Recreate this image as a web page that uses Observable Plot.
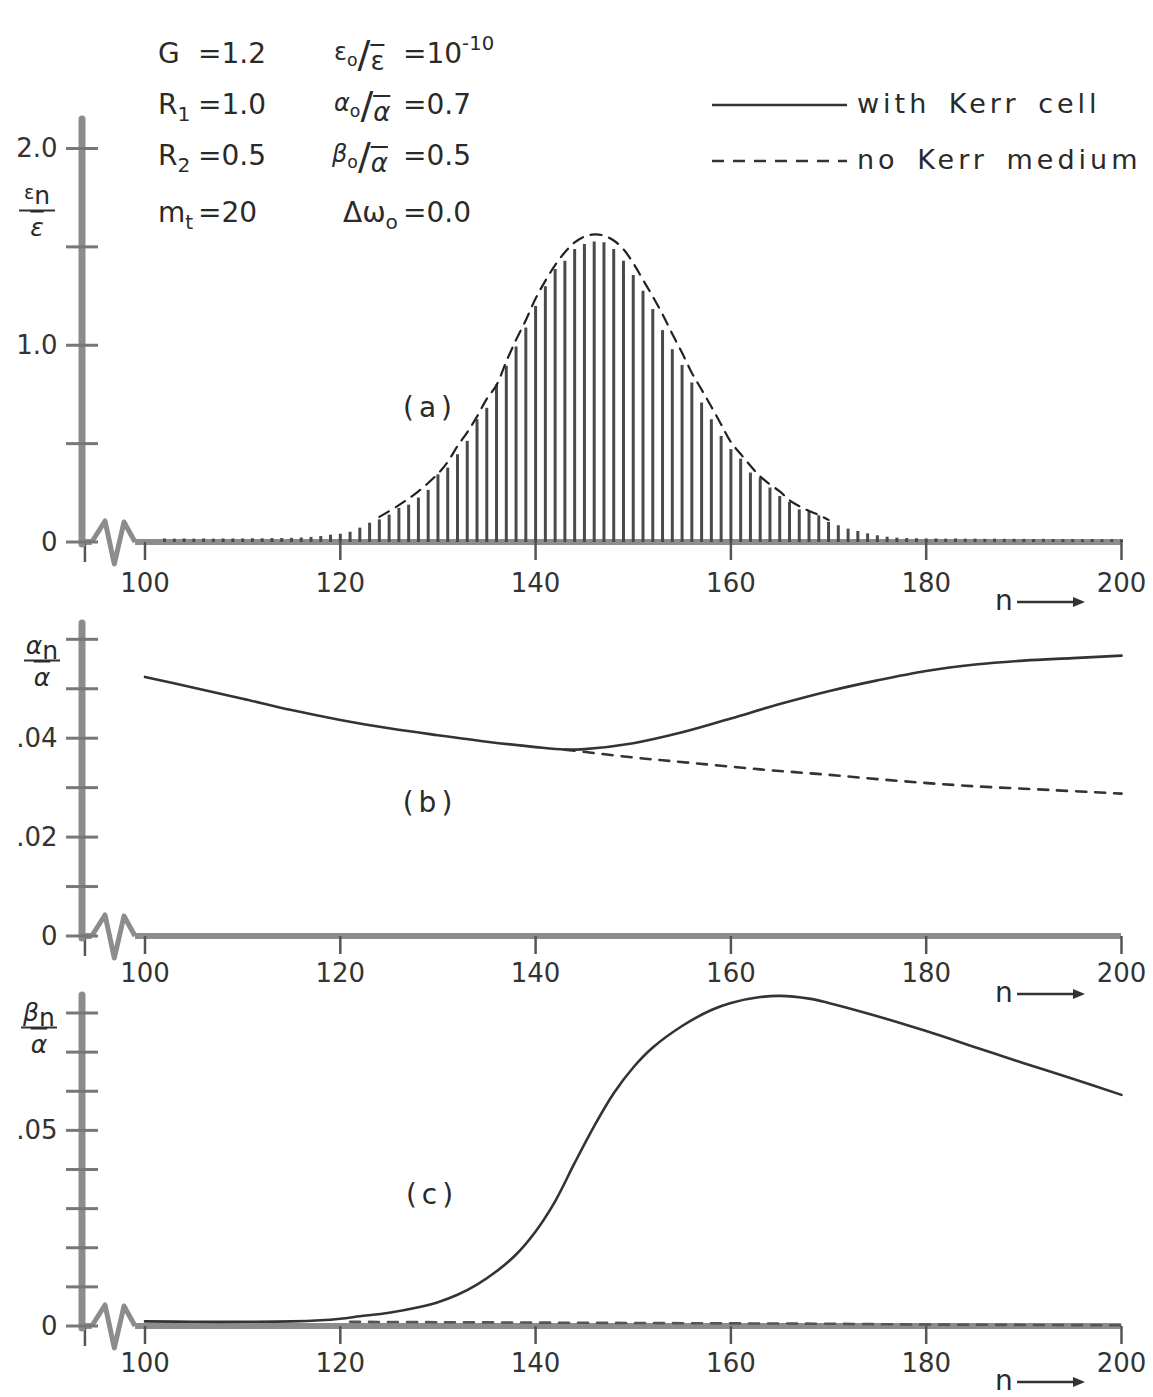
<!DOCTYPE html>
<html>
<head>
<meta charset="utf-8">
<script src="https://cdn.jsdelivr.net/npm/d3@7"></script>
<script src="https://cdn.jsdelivr.net/npm/@observablehq/plot@0.6"></script>
<style>
  body { margin: 0; background: #fff; }
  #page { position: relative; width: 1153px; height: 1397px; background: #fff; overflow: hidden;
          font-family: "DejaVu Sans", sans-serif; color: #2a2a2a; }
  .abs { position: absolute; white-space: nowrap; line-height: 1; transform: translateY(-50%); }
  .ctr { transform: translate(-50%, -50%); }
  .prm { font-size: 28px; }
  .sb { font-size: 0.72em; position: relative; top: 0.35em; }
  .sp { font-size: 0.7em; position: relative; top: -0.65em; }
  .num { font-size: 24px; position: relative; top: -7px; }
  .sl { font-size: 38px; }
  .ov { text-decoration: overline; font-size: 26px; position: relative; top: 3px; }
  .leg { font-size: 27px; letter-spacing: 4px; word-spacing: 6px; }
  .plab { font-size: 28px; letter-spacing: 5px; }
  .frac { position: absolute; transform: translate(-50%, -50%); display: flex; flex-direction: column;
          align-items: center; line-height: 1; font-size: 25px; }
  .frac .bar { width: 36px; height: 2px; background: #333; margin: 2px 0 3px 0; }
  .frac .dn { text-decoration: overline; font-style: italic; }
</style>
</head>
<body>
<div id="page"></div>
<script>
// ---------------- data ----------------
const xDomain = [93.6, 200];
const xTicks = [100, 120, 140, 160, 180, 200];

// (a) pulse energies with Kerr cell, n = 102..200
const kerrN = d3.range(102, 201);
const kerrE = [
  0.018, 0.017, 0.018, 0.017, 0.018, 0.017, 0.018, 0.018, 0.018, 0.019, 0.019, 0.020,
  0.020, 0.021, 0.023, 0.026,
  0.030, 0.037, 0.042, 0.052, 0.073, 0.098, 0.115, 0.139, 0.173, 0.190,
  0.226, 0.265, 0.344, 0.378, 0.446, 0.514, 0.624, 0.682, 0.800, 0.896,
  0.994, 1.090, 1.200, 1.300, 1.388, 1.430, 1.489, 1.515, 1.527, 1.523,
  1.489, 1.430, 1.357, 1.277, 1.184, 1.077, 0.980, 0.900, 0.811, 0.709,
  0.624, 0.539, 0.472, 0.424, 0.353, 0.327, 0.277, 0.234, 0.204, 0.166,
  0.158, 0.136, 0.102, 0.085, 0.068, 0.056, 0.044, 0.034, 0.027, 0.022,
  0.020, 0.019,
  0.018, 0.018, 0.017, 0.018, 0.017, 0.017, 0.016, 0.017, 0.016, 0.016, 0.016,
  0.015, 0.016, 0.015, 0.015, 0.015, 0.014, 0.015, 0.014, 0.014, 0.014
];
// (a) envelope, no Kerr medium
const envN = [124, 126, 128, 130, 131, 132, 133, 134, 135, 136, 137, 138, 139, 140, 141, 142, 143, 144, 145, 146,
              147, 148, 149, 150, 151, 152, 153, 154, 155, 156, 157, 158, 159, 160, 161, 162, 163, 164, 165, 166,
              167, 168, 169, 170];
const envE = [0.13, 0.19, 0.26, 0.35, 0.41, 0.49, 0.56, 0.64, 0.73, 0.80, 0.92, 1.03, 1.13, 1.24, 1.33, 1.41, 1.475, 1.525, 1.555, 1.566,
              1.56, 1.535, 1.49, 1.42, 1.335, 1.25, 1.16, 1.06, 0.964, 0.862, 0.777, 0.69, 0.60, 0.51, 0.45, 0.39, 0.336, 0.295, 0.26, 0.215,
              0.185, 0.16, 0.14, 0.115];

// (b) alpha_n / alpha-bar
const alphaKerrN = [100, 105, 110, 115, 120, 125, 130, 135, 140, 143, 145, 150, 155, 160, 165, 170, 175, 180, 185, 190, 195, 200];
const alphaKerrV = [0.0525, 0.0503, 0.0481, 0.0458, 0.0438, 0.0421, 0.0407, 0.0394, 0.0383, 0.0378, 0.0379, 0.0391,
                    0.0413, 0.0441, 0.0470, 0.0496, 0.0518, 0.0537, 0.0550, 0.0558, 0.0563, 0.0568];
const alphaNoN = [143, 150, 156, 163, 170, 177, 184, 193, 200];
const alphaNoV = [0.0378, 0.0362, 0.0351, 0.0338, 0.0327, 0.0315, 0.0305, 0.0296, 0.0289];

// (c) beta_n / alpha-bar
const betaKerrN = [100, 105, 110, 115, 118, 120, 122, 125, 128, 130, 132, 134, 136, 138, 140, 142, 144, 146, 148, 150,
                   152, 155, 158, 160, 163, 165, 168, 170, 175, 180, 185, 190, 195, 200];
const betaKerrV = [0.0013, 0.0012, 0.0012, 0.0013, 0.0016, 0.0020, 0.0026, 0.0035, 0.0049, 0.0062, 0.0081, 0.0107, 0.0141,
                   0.0184, 0.0243, 0.0320, 0.0418, 0.0512, 0.0596, 0.0662, 0.0713, 0.0768, 0.0809, 0.0827, 0.0842, 0.0845,
                   0.0838, 0.0827, 0.0793, 0.0755, 0.0714, 0.0673, 0.0633, 0.0592];
const betaNoN = [121, 130, 140, 150, 160, 170, 180, 190, 200];
const betaNoV = [0.0012, 0.0011, 0.0010, 0.0009, 0.0008, 0.0007, 0.0005, 0.0004, 0.0003];

// axis ticks and labels
const ticksA = [0, 0.5, 1.0, 1.5, 2.0];
const labTicksA = [0, 1.0, 2.0];
const labTextA = ["0", "1.0", "2.0"];
const ticksB = [0, 0.01, 0.02, 0.03, 0.04, 0.05, 0.06];
const labTicksB = [0, 0.02, 0.04];
const labTextB = ["0", ".02", ".04"];
const ticksC = [0, 0.01, 0.02, 0.03, 0.04, 0.05, 0.06, 0.07, 0.08];
const labTicksC = [0, 0.05];
const labTextC = ["0", ".05"];

const legendText = ["with  Kerr  cell", "no  Kerr  medium"];
const panelLetters = ["(a)", "(b)", "(c)"];

// ---------------- drawing ----------------
const page = document.getElementById("page");
const AX = "#8c8c8c";
const INK = "#333";

// axis-break zigzag (n positions, pixel offsets)
const breakN = [94.6, 95.96, 96.91, 97.9, 99.03];
const breakDy = [0, -21, 22, -20, 0];

function decor(yTop, yTicks) {
  return (index, scales) => {
    const x = scales.x, y = scales.y;
    const g = d3.create("svg:g");
    const x0 = x(xDomain[0]), y0 = y(0);
    g.append("line").attr("x1", x0).attr("x2", x(breakN[0])).attr("y1", y0).attr("y2", y0)
      .attr("stroke", AX).attr("stroke-width", 6);
    g.append("path").attr("d", d3.line()(breakN.map((n, i) => [x(n), y0 + breakDy[i]])))
      .attr("fill", "none").attr("stroke", AX).attr("stroke-width", 5).attr("stroke-linejoin", "round");
    g.append("line").attr("x1", x(breakN[breakN.length - 1])).attr("x2", x(200)).attr("y1", y0).attr("y2", y0)
      .attr("stroke", AX).attr("stroke-width", 6);
    g.append("line").attr("x1", x(93.9)).attr("x2", x(93.9)).attr("y1", y0).attr("y2", y0 + 20)
      .attr("stroke", "#555").attr("stroke-width", 2.5);
    g.append("line").attr("x1", x0).attr("x2", x0).attr("y1", y0 + 2).attr("y2", y(yTop))
      .attr("stroke", AX).attr("stroke-width", 7).attr("stroke-linecap", "round");
    for (const t of yTicks) {
      g.append("line").attr("x1", x0 - 16).attr("x2", x0 + 16).attr("y1", y(t)).attr("y2", y(t))
        .attr("stroke", "#777").attr("stroke-width", 3);
    }
    return g.node();
  };
}

function panel({top, height, mt, mb, yTop, yTicks, labTicks, labText, pad, marks}) {
  const svg = Plot.plot({
    width: 1153, height,
    marginLeft: 82, marginRight: 32, marginTop: mt, marginBottom: mb,
    x: {domain: xDomain, label: null},
    y: {domain: [0, yTop], label: null},
    style: {background: "transparent", overflow: "visible", fontFamily: "DejaVu Sans, sans-serif",
            fontSize: "26px", color: INK},
    marks: [
      decor(yTop, yTicks),
      ...marks,
      Plot.axisX({ticks: xTicks, tickSize: 18, tickPadding: pad, tickFormat: d => String(d), label: null,
                  stroke: "#555", strokeWidth: 2.5, fill: INK, fontSize: 26}),
      Plot.axisY({ticks: labTicks, tickSize: 0, tickPadding: 25, label: null,
                  tickFormat: d => labText[labTicks.indexOf(d)], fill: INK, fontSize: 26})
    ]
  });
  svg.style.position = "absolute";
  svg.style.left = "0px";
  svg.style.top = top + "px";
  page.appendChild(svg);
}

const kerrData = kerrN.map((n, i) => ({n, v: kerrE[i]}));
const envData = envN.map((n, i) => ({n, v: envE[i]}));
const aK = alphaKerrN.map((n, i) => ({n, v: alphaKerrV[i]}));
const aN = alphaNoN.map((n, i) => ({n, v: alphaNoV[i]}));
const bK = betaKerrN.map((n, i) => ({n, v: betaKerrV[i]}));
const bN = betaNoN.map((n, i) => ({n, v: betaNoV[i]}));

panel({
  top: 100, height: 520, mt: 19, mb: 78, yTop: 2.15, yTicks: ticksA,
  labTicks: labTicksA, labText: labTextA, pad: 13,
  marks: [
    Plot.ruleX(kerrData, {x: "n", y1: 0, y2: "v", stroke: "#4a4a4a", strokeWidth: 3}),
    Plot.line(envData, {x: "n", y: "v", curve: "catmull-rom", stroke: "#222", strokeWidth: 2.2,
                        strokeDasharray: "11,8"})
  ]
});

panel({
  top: 600, height: 420, mt: 23, mb: 84, yTop: 0.0633, yTicks: ticksB,
  labTicks: labTicksB, labText: labTextB, pad: 9,
  marks: [
    Plot.line(aK, {x: "n", y: "v", curve: "catmull-rom", stroke: INK, strokeWidth: 2.6}),
    Plot.line(aN, {x: "n", y: "v", curve: "catmull-rom", stroke: INK, strokeWidth: 2.6, strokeDasharray: "10,9"})
  ]
});

panel({
  top: 980, height: 417, mt: 15, mb: 71, yTop: 0.0846, yTicks: ticksC,
  labTicks: labTicksC, labText: labTextC, pad: 9,
  marks: [
    Plot.line(bN, {x: "n", y: "v", curve: "catmull-rom", stroke: "#555", strokeWidth: 2.6, strokeDasharray: "10,9"}),
    Plot.line(bK, {x: "n", y: "v", curve: "catmull-rom", stroke: INK, strokeWidth: 2.6})
  ]
});

// ---------------- HTML text overlays ----------------
function add(html, cls, left, top) {
  const d = document.createElement("div");
  d.className = "abs " + cls;
  d.style.left = left + "px";
  d.style.top = top + "px";
  d.innerHTML = html;
  page.appendChild(d);
  return d;
}

// parameter block
const rowY = [54, 105, 156, 213];
add('G', 'prm', 158, rowY[0]);
add('R<span class="sb">1</span>', 'prm', 158, rowY[1]);
add('R<span class="sb">2</span>', 'prm', 158, rowY[2]);
add('m<span class="sb">t</span>', 'prm', 158, rowY[3]);
add('=1.2', 'prm', 198, rowY[0]);
add('=1.0', 'prm', 198, rowY[1]);
add('=0.5', 'prm', 198, rowY[2]);
add('=20', 'prm', 198, rowY[3]);

add('<span class="num">ε<span class="sb">o</span></span><span class="sl">/</span><span class="ov">ε</span>', 'prm', 334, rowY[0]);
add('<span class="num"><i>α</i><span class="sb">o</span></span><span class="sl">/</span><span class="ov"><i>α</i></span>', 'prm', 334, rowY[1]);
add('<span class="num"><i>β</i><span class="sb">o</span></span><span class="sl">/</span><span class="ov"><i>α</i></span>', 'prm', 332, rowY[2]);
add('Δω<span class="sb">o</span>', 'prm', 343, rowY[3]);
add('=10<span class="sp">-10</span>', 'prm', 403, rowY[0]);
add('=0.7', 'prm', 403, rowY[1]);
add('=0.5', 'prm', 403, rowY[2]);
add('=0.0', 'prm', 403, rowY[3]);

// legend
add('<svg width="136" height="6"><line x1="0" x2="135" y1="3" y2="3" stroke="#333" stroke-width="2.5"/></svg>', '', 712, 103);
add('<svg width="136" height="6"><line x1="0" x2="135" y1="3" y2="3" stroke="#333" stroke-width="2.5" stroke-dasharray="12,9"/></svg>', '', 712, 159);
add(legendText[0], 'leg', 857, 103);
add(legendText[1], 'leg', 857, 159);

// panel letters
add(panelLetters[0], 'plab ctr', 430, 408);
add(panelLetters[1], 'plab ctr', 430, 803);
add(panelLetters[2], 'plab ctr', 432, 1195);

// n -> labels
const arrow = '<svg width="70" height="14" style="vertical-align:middle;margin-left:4px"><line x1="0" x2="58" y1="7" y2="7" stroke="#333" stroke-width="2.5"/><path d="M56,2 L68,7 L56,12 Z" fill="#333"/></svg>';
for (const yy of [601, 993, 1381]) add('n' + arrow, 'prm', 995, yy);

// y-axis fraction labels
function frac(numHtml, denHtml, cx, cy) {
  const d = document.createElement("div");
  d.className = "frac";
  d.style.left = cx + "px";
  d.style.top = cy + "px";
  d.innerHTML = '<div class="nm">' + numHtml + '</div><div class="bar"></div><div class="dn">' + denHtml + '</div>';
  page.appendChild(d);
}
frac('<span style="font-size:19px;position:relative;top:-5px">ε</span>n', 'ε', 37, 211);
frac('<i>α</i><span style="position:relative;top:5px">n</span>', 'α', 42, 661);
frac('<i>β</i><span style="position:relative;top:5px">n</span>', 'α', 39, 1028);
</script>
</body>
</html>
